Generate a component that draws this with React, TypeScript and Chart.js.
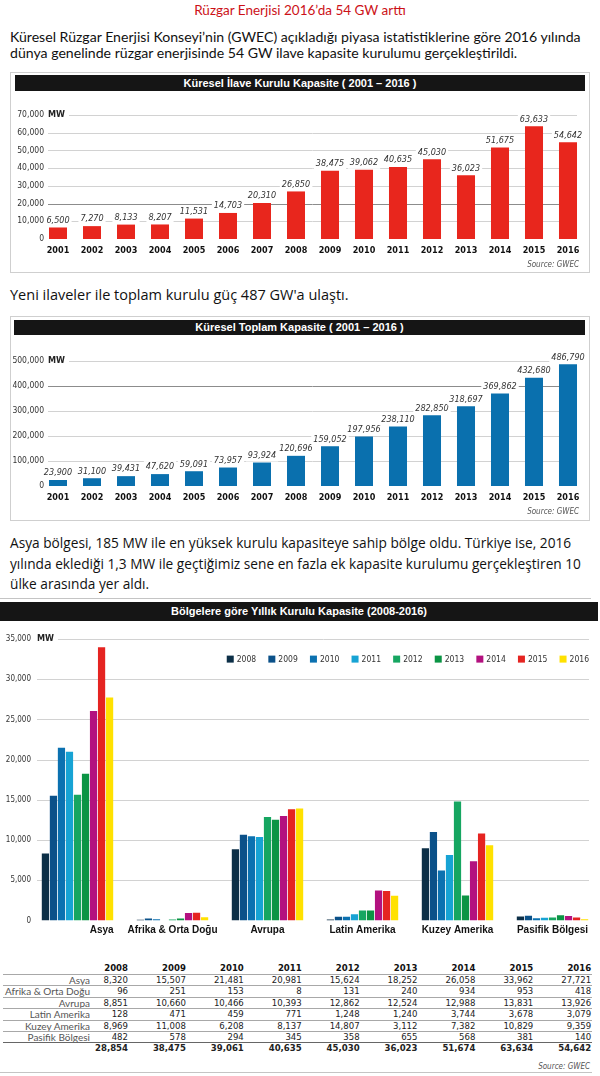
import React, { useEffect, useRef } from "react";
import { Chart, registerables } from "chart.js";

Chart.register(...registerables);

const NARROW = "'Liberation Sans Narrow', 'Arial Narrow', 'DejaVu Sans Condensed', sans-serif";
const ARIAL = "'Liberation Sans', Arial, sans-serif";

// ---------- data ----------
const years = ["2001", "2002", "2003", "2004", "2005", "2006", "2007", "2008", "2009", "2010", "2011", "2012", "2013", "2014", "2015", "2016"];
const addedCapacity = [6500, 7270, 8133, 8207, 11531, 14703, 20310, 26850, 38475, 39062, 40635, 45030, 36023, 51675, 63633, 54642];
const addedTicks = [0, 10000, 20000, 30000, 40000, 50000, 60000, 70000];
const totalCapacity = [23900, 31100, 39431, 47620, 59091, 73957, 93924, 120696, 159052, 197956, 238110, 282850, 318697, 369862, 432680, 486790];
const totalTicks = [0, 100000, 200000, 300000, 400000, 500000];

const regions = ["Asya", "Afrika & Orta Doğu", "Avrupa", "Latin Amerika", "Kuzey Amerika", "Pasifik Bölgesi"];
const regionYears = ["2008", "2009", "2010", "2011", "2012", "2013", "2014", "2015", "2016"];
const asya = [8320, 15507, 21481, 20981, 15624, 18252, 26058, 33962, 27721];
const afrikaOrtaDogu = [96, 251, 153, 8, 131, 240, 934, 953, 418];
const avrupa = [8851, 10660, 10466, 10393, 12862, 12524, 12988, 13831, 13926];
const latinAmerika = [128, 471, 459, 771, 1248, 1240, 3744, 3678, 3079];
const kuzeyAmerika = [8969, 11008, 6208, 8137, 14807, 3112, 7382, 10829, 9359];
const pasifikBolgesi = [482, 578, 294, 345, 358, 655, 568, 381, 140];
const regionTotals = [28854, 38475, 39061, 40635, 45030, 36023, 51674, 63634, 54642];
const regionTicks = [0, 5000, 10000, 15000, 20000, 25000, 30000, 35000];
const yearColors = ["#0c2f47", "#0b5189", "#0b71b0", "#17a3d4", "#16a661", "#0b9444", "#b3117f", "#e52421", "#ffe100"];

const regionRows = [asya, afrikaOrtaDogu, avrupa, latinAmerika, kuzeyAmerika, pasifikBolgesi];

const fmt = (v: number) => Number(v).toLocaleString("en-US");

// ---------- plugin ----------
const decorPlugin: any = {
  id: "decor",
  beforeDatasetsDraw(chart: any, _a: any, opts: any) {
    const { ctx, chartArea } = chart;
    const y = chart.scales.y;
    const left = chartArea.left + opts.gridLeft;
    const right = chartArea.right - opts.gridRight;
    ctx.save();
    // y tick labels (drawn from the scale's ticks)
    ctx.font = `${opts.yTickSize}px ${NARROW}`;
    ctx.fillStyle = "#333";
    ctx.textAlign = "right";
    ctx.textBaseline = "middle";
    for (const t of y.ticks) {
      ctx.fillText(fmt(t.value), chartArea.left + opts.yLabelRight, y.getPixelForValue(t.value));
    }
    // MW unit
    ctx.font = `bold ${opts.mwSize}px ${NARROW}`;
    ctx.fillStyle = "#222";
    ctx.textAlign = "left";
    const topPx = y.getPixelForValue(y.max);
    ctx.fillText("MW", left, topPx);
    const mw = ctx.measureText("MW").width;
    // grid lines
    ctx.lineWidth = 1;
    for (const t of y.ticks) {
      if (t.value === 0) continue;
      const py = Math.round(y.getPixelForValue(t.value)) + 0.5;
      ctx.strokeStyle = t.value === opts.darkValue ? "#8c8c8c" : "#d2d2d2";
      ctx.beginPath();
      ctx.moveTo(t.value === y.max ? left + mw + 4 : left, py);
      ctx.lineTo(right, py);
      ctx.stroke();
    }
    ctx.restore();
  },
  afterDatasetsDraw(chart: any, _a: any, opts: any) {
    const { ctx, chartArea } = chart;
    ctx.save();
    if (opts.valueLabels) {
      const meta = chart.getDatasetMeta(0);
      const vals = chart.data.datasets[0].data;
      ctx.font = `italic ${opts.valueSize}px ${NARROW}`;
      ctx.textAlign = "center";
      ctx.textBaseline = "middle";
      meta.data.forEach((bar: any, i: number) => {
        const txt = fmt(vals[i]);
        const w = ctx.measureText(txt).width;
        const cy = bar.y - opts.valueGap;
        ctx.fillStyle = "#fff";
        ctx.fillRect(bar.x - w / 2 - 2, cy - 6, w + 4, 12);
        ctx.fillStyle = "#333";
        ctx.fillText(txt, bar.x, cy);
      });
    }
    if (opts.legend) {
      const y = chart.scales.y;
      const right = chartArea.right - opts.gridRight;
      const ds = chart.data.datasets;
      const box = opts.legendBox;
      ctx.font = `${opts.legendSize}px ${NARROW}`;
      ctx.textAlign = "left";
      ctx.textBaseline = "middle";
      const cy = y.getPixelForValue(opts.legendValue);
      const lastW = ctx.measureText(ds[ds.length - 1].label).width;
      const startLast = right - lastW - box - opts.legendGap;
      ds.forEach((d: any, i: number) => {
        const x0 = startLast - (ds.length - 1 - i) * opts.legendStep;
        ctx.fillStyle = d.backgroundColor;
        ctx.fillRect(x0, cy - box / 2, box, box);
        ctx.fillStyle = "#333";
        ctx.fillText(d.label, x0 + box + opts.legendGap, cy + 0.5);
      });
    }
    if (opts.xLabels) {
      const x = chart.scales.x;
      const labels = chart.data.labels;
      ctx.font = `bold ${opts.xSize}px ${ARIAL}`;
      ctx.fillStyle = "#111";
      ctx.textBaseline = "top";
      const half = ((x.width / labels.length) * opts.groupPct) / 2;
      labels.forEach((l: string, i: number) => {
        const cx = x.getPixelForValue(i);
        const al = opts.xAlign[i];
        ctx.textAlign = al;
        ctx.fillText(l, al === "right" ? cx + half : cx, chartArea.bottom + opts.xPad);
      });
    }
    ctx.restore();
  },
};

function simpleBarConfig(values: number[], ticks: number[], color: string, darkValue: number, top: number) {
  return {
    type: "bar",
    data: {
      labels: years,
      datasets: [{ data: values, backgroundColor: color, barPercentage: 0.53, categoryPercentage: 1 }],
    },
    plugins: [decorPlugin],
    options: {
      animation: false,
      responsive: true,
      maintainAspectRatio: false,
      layout: { padding: { left: 0, right: 4, top: top, bottom: 13 } },
      plugins: {
        legend: { display: false },
        tooltip: { enabled: false },
        decor: { gridLeft: 7, gridRight: 8, darkValue, mwSize: 9, yTickSize: 8.5, yLabelRight: 3, valueLabels: true, valueSize: 9, valueGap: 7 },
      },
      scales: {
        x: {
          grid: { display: false, drawTicks: false },
          border: { display: false },
          afterFit: (s: any) => { s.height = 20; },
          ticks: { font: { family: NARROW, size: 9, weight: "bold" }, color: "#111", padding: 6, maxRotation: 0, autoSkip: false },
        },
        y: {
          min: ticks[0],
          max: ticks[ticks.length - 1],
          grid: { display: false, drawTicks: false },
          border: { display: false },
          afterBuildTicks: (s: any) => { s.ticks = ticks.map((v) => ({ value: v })); },
          afterFit: (s: any) => { s.width = 41; },
          ticks: { display: false },
        },
      },
    },
  };
}

function regionConfig() {
  return {
    type: "bar",
    data: {
      labels: regions,
      datasets: regionYears.map((yr, j) => ({
        label: yr,
        data: regionRows.map((r) => r[j]),
        backgroundColor: yearColors[j],
        categoryPercentage: 0.76,
        barPercentage: 0.9,
      })),
    },
    plugins: [decorPlugin],
    options: {
      animation: false,
      responsive: true,
      maintainAspectRatio: false,
      layout: { padding: { left: 0, right: 0, top: 16, bottom: 0 } },
      plugins: {
        legend: { display: false },
        tooltip: { enabled: false },
        decor: {
          gridLeft: 7, gridRight: 11, mwSize: 9, yTickSize: 8, yLabelRight: 1,
          legend: true, legendValue: 32500, legendBox: 7, legendGap: 3, legendStep: 41.6, legendSize: 8.5,
          xLabels: true, xSize: 10, xPad: 4.5, groupPct: 0.76,
          xAlign: ["right", "center", "center", "center", "center", "center"],
        },
      },
      scales: {
        x: {
          grid: { display: false, drawTicks: false },
          border: { display: false },
          ticks: { display: false },
          afterFit: (s: any) => { s.height = 22.5; },
        },
        y: {
          min: regionTicks[0],
          max: regionTicks[regionTicks.length - 1],
          grid: { display: false, drawTicks: false },
          border: { display: false },
          afterBuildTicks: (s: any) => { s.ticks = regionTicks.map((v) => ({ value: v })); },
          afterFit: (s: any) => { s.width = 30; },
          ticks: { display: false },
        },
      },
    },
  };
}

function ChartBox({ make, style }: { make: () => any; style: React.CSSProperties }) {
  const ref = useRef<HTMLCanvasElement>(null);
  useEffect(() => {
    const chart = new Chart(ref.current as HTMLCanvasElement, make());
    return () => chart.destroy();
  }, []);
  return (
    <div style={{ position: "absolute", ...style }}>
      <canvas ref={ref} />
    </div>
  );
}

const abs = (s: React.CSSProperties): React.CSSProperties => ({ position: "absolute", ...s });

function HeaderBar({ text, left, top, width, height, size }: any) {
  return (
    <div
      style={abs({
        left, top, width, height, background: "#151515", color: "#fff",
        fontFamily: ARIAL, fontWeight: "bold", fontSize: size, lineHeight: `${height}px`,
        textAlign: "center", whiteSpace: "nowrap",
      })}
    >
      {text}
    </div>
  );
}

function Source({ top, right }: any) {
  return (
    <div style={abs({ top, right, fontFamily: NARROW, fontStyle: "italic", fontSize: 8, color: "#555", lineHeight: "10px" })}>
      Source: GWEC
    </div>
  );
}

const colRight = (j: number) => 128 + j * 57.9;
const ROW_TOP = 974;
const ROW_H = 11.4;

function DataTable() {
  const rows = [...regions.map((r, i) => ({ label: r, vals: regionRows[i], bold: false })), { label: "", vals: regionTotals, bold: true }];
  return (
    <>
      {regionYears.map((yr, j) => (
        <div key={yr} style={abs({ top: 962, left: colRight(j) - 50, width: 50, textAlign: "right", fontFamily: NARROW, fontWeight: "bold", fontSize: 9.5, lineHeight: "11px", color: "#111" })}>
          {yr}
        </div>
      ))}
      {rows.map((row, i) => (
        <div
          key={i}
          style={abs({
            top: ROW_TOP + i * ROW_H, left: 3, width: 589, height: ROW_H, boxSizing: "border-box",
            borderTop: i === rows.length - 1 ? "1.5px solid #666" : "1px solid #a8a8a8",
          })}
        >
          <div style={abs({ left: -3, top: 0, width: 90, textAlign: "right", fontFamily: "Lato, sans-serif", fontSize: 10, lineHeight: `${ROW_H - 1}px`, color: "#555", whiteSpace: "nowrap" })}>
            {row.label}
          </div>
          {row.vals.map((v, j) => (
            <div key={j} style={abs({ left: colRight(j) - 53, top: 0, width: 50, textAlign: "right", fontFamily: NARROW, fontWeight: row.bold ? "bold" : "normal", fontSize: 9.5, lineHeight: `${ROW_H - 1}px`, color: "#222" })}>
              {fmt(v)}
            </div>
          ))}
        </div>
      ))}
    </>
  );
}

export default function App() {
  useEffect(() => {
    document.body.style.margin = "0";
  }, []);
  return (
    <div style={{ position: "relative", width: 600, height: 1076, overflow: "hidden", background: "#fff" }}>
      <div style={abs({ left: 0, top: 1, width: 600, textAlign: "center", fontFamily: "Lato, sans-serif", fontSize: 13.5, lineHeight: "18px", color: "#cc1118", whiteSpace: "nowrap" })}>
        Rüzgar Enerjisi 2016’da 54 GW arttı
      </div>
      <div style={abs({ left: 10, top: 29, fontFamily: "Lato, sans-serif", fontSize: 14.1, lineHeight: "16px", color: "#111", whiteSpace: "nowrap" })}>
        Küresel Rüzgar Enerjisi Konseyi’nin (GWEC) açıkladığı piyasa istatistiklerine göre 2016 yılında
        <br />
        dünya genelinde rüzgar enerjisinde 54 GW ilave kapasite kurulumu gerçekleştirildi.
      </div>

      {/* chart 1 */}
      <div style={abs({ left: 10, top: 72, width: 578, height: 199, border: "1.5px solid #cfcfcf" })} />
      <HeaderBar text="Küresel İlave Kurulu Kapasite ( 2001 – 2016 )" left={15} top={75} width={570} height={16} size={11} />
      <ChartBox make={() => simpleBarConfig(addedCapacity, addedTicks, "#e8261d", 20000, 23)} style={{ left: 0, top: 92, width: 589, height: 180 }} />
      <Source top={260} right={21} />

      <div style={abs({ left: 10, top: 285, fontFamily: "'Open Sans', sans-serif", fontSize: 14.5, lineHeight: "20.5px", color: "#111", whiteSpace: "nowrap" })}>
        Yeni ilaveler ile toplam kurulu güç 487 GW'a ulaştı.
      </div>

      {/* chart 2 */}
      <div style={abs({ left: 10, top: 316, width: 578, height: 203, border: "1.5px solid #cfcfcf" })} />
      <HeaderBar text="Küresel Toplam Kapasite ( 2001 – 2016 )" left={14} top={320} width={571} height={15} size={11} />
      <ChartBox make={() => simpleBarConfig(totalCapacity, totalTicks, "#0a70ae", 400000, 24)} style={{ left: 0, top: 337, width: 589, height: 182 }} />
      <Source top={507} right={21} />

      <div style={abs({ left: 10, top: 533, fontFamily: "'Open Sans', sans-serif", fontSize: 13.7, lineHeight: "20.5px", color: "#111", whiteSpace: "nowrap" })}>
        Asya bölgesi, 185 MW ile en yüksek kurulu kapasiteye sahip bölge oldu. Türkiye ise, 2016
        <br />
        yılında eklediği 1,3 MW ile geçtiğimiz sene en fazla ek kapasite kurulumu gerçekleştiren 10
        <br />
        ülke arasında yer aldı.
      </div>

      {/* chart 3 */}
      <div style={abs({ left: 0, top: 598, width: 591, height: 0, borderTop: "1.5px solid #c4c4c4" })} />
      <HeaderBar text="Bölgelere göre Yıllık Kurulu Kapasite (2008-2016)" left={0} top={602} width={598} height={19} size={11} />
      <ChartBox make={regionConfig} style={{ left: 0, top: 623, width: 600, height: 320 }} />

      <DataTable />
      <Source top={1062} right={10} />
      <div style={abs({ left: 0, top: 1072, width: 592, height: 0, borderTop: "1.5px solid #c4c4c4" })} />
    </div>
  );
}
